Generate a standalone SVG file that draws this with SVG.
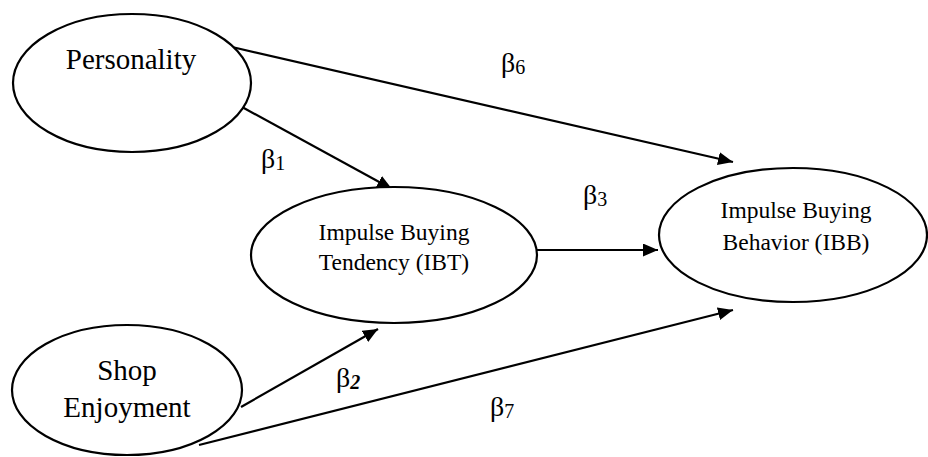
<svg xmlns="http://www.w3.org/2000/svg" width="928" height="457" viewBox="0 0 928 457">
<style>
.node ellipse{fill:#fff;stroke:#000;stroke-width:2.2}
.lbl{font-family:"Liberation Serif","Times New Roman",serif;fill:#000;text-anchor:middle}
.big{font-size:29px}
.small{font-size:23.5px}
.beta{font-family:"Liberation Serif","Times New Roman",serif;font-size:28px;fill:#000}
.sub{font-size:20px}
#connectors line{stroke:#000;stroke-width:2.2;fill:none;marker-end:url(#arr)}
</style>
<defs>
<marker id="arr" markerUnits="userSpaceOnUse" markerWidth="16" markerHeight="14" refX="15" refY="6.5" orient="auto">
<path d="M0,0 L15,6.5 L0,13 z" fill="#000"/>
</marker>
</defs>
<rect width="928" height="457" fill="#fff"/>
<g id="connectors">
<line x1="232" y1="47" x2="733" y2="162"/>
<line x1="242" y1="107" x2="392" y2="189"/>
<line x1="537" y1="250" x2="658" y2="250"/>
<line x1="241" y1="407" x2="378" y2="329"/>
<line x1="199" y1="445" x2="733" y2="310"/>
</g>
<g id="personality" class="node">
<ellipse cx="132" cy="83" rx="119" ry="69"/>
<text class="lbl big" x="131" y="69">Personality</text>
</g>
<g id="ibt" class="node">
<ellipse cx="394" cy="255" rx="143" ry="68"/>
<text class="lbl small" x="394" y="240">Impulse Buying</text>
<text class="lbl small" x="394" y="270">Tendency (IBT)</text>
</g>
<g id="ibb" class="node">
<ellipse cx="793" cy="235" rx="134" ry="67"/>
<text class="lbl small" x="796" y="218">Impulse Buying</text>
<text class="lbl small" x="796" y="250">Behavior (IBB)</text>
</g>
<g id="shop" class="node">
<ellipse cx="127" cy="390" rx="115" ry="65"/>
<text class="lbl big" x="127" y="380">Shop</text>
<text class="lbl big" x="127" y="417">Enjoyment</text>
</g>
<g id="labels">
<text class="beta" x="501" y="72">β<tspan class="sub" dy="2">6</tspan></text>
<text class="beta" x="261" y="168">β<tspan class="sub" dy="2">1</tspan></text>
<text class="beta" x="583" y="204">β<tspan class="sub" dy="2">3</tspan></text>
<text class="beta" x="336" y="387">β<tspan class="sub" dy="2" font-style="italic" font-weight="bold">2</tspan></text>
<text class="beta" x="490" y="416">β<tspan class="sub" dy="2">7</tspan></text>
</g>
</svg>
